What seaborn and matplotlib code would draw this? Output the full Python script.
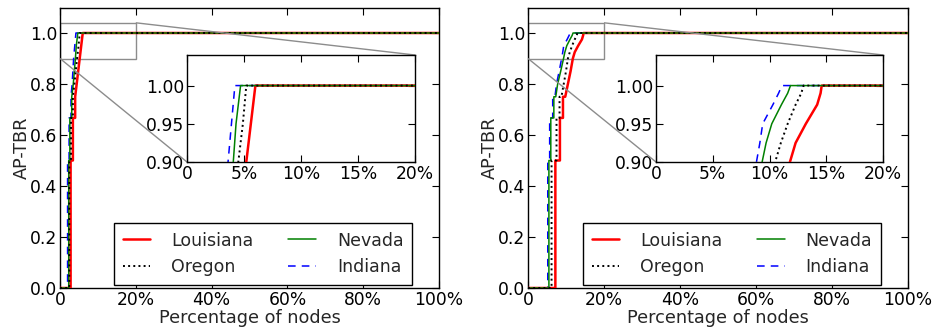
import numpy as np
import pandas as pd
import matplotlib
matplotlib.use("Agg")
import matplotlib.pyplot as plt
import seaborn as sns
from matplotlib.ticker import FuncFormatter
from mpl_toolkits.axes_grid1.inset_locator import mark_inset

# ---------------- data (x in %, y = AP-TBR) ----------------
states = ["Louisiana", "Oregon", "Nevada", "Indiana"]

left_y = [0, 0, 0.5, 0.5, 0.667, 0.667, 0.75, 0.8, 0.9, 0.95, 1.0, 1.0]
left_louisiana = [0, 2.8, 2.8, 3.4, 3.4, 4.0, 4.0, 4.4, 5.2, 5.6, 6.0, 100]
left_oregon    = [0, 2.45, 2.45, 2.9, 2.9, 3.4, 3.4, 3.8, 4.5, 4.9, 5.2, 100]
left_nevada    = [0, 2.3, 2.3, 2.6, 2.6, 3.1, 3.1, 3.5, 4.06, 4.3, 4.7, 100]
left_indiana   = [0, 2.0, 2.0, 2.4, 2.4, 2.9, 2.9, 3.2, 3.6, 3.9, 4.2, 100]

right_y = [0, 0, 0.5, 0.5, 0.667, 0.667, 0.75, 0.75, 0.8, 0.85, 0.9, 0.925, 0.95, 0.975, 0.99, 1.0, 1.0]
right_louisiana = [0, 7.2, 7.2, 8.4, 8.4, 9.2, 9.2, 9.8, 10.5, 11.2, 11.8, 12.3, 13.2, 14.2, 14.5, 14.6, 100]
right_oregon    = [0, 6.2, 6.2, 7.5, 7.5, 8.3, 8.3, 8.8, 9.4, 10.0, 10.5, 11.0, 11.6, 12.3, 12.8, 13.0, 100]
right_nevada    = [0, 5.5, 5.5, 6.0, 6.0, 6.8, 6.8, 7.3, 7.8, 8.6, 9.35, 9.7, 10.2, 11.05, 11.6, 11.85, 100]
right_indiana   = [0, 5.2, 5.2, 5.7, 5.7, 6.5, 6.5, 7.1, 7.5, 8.2, 8.85, 9.15, 9.4, 10.3, 10.8, 11.1, 100]

main_xticks = [0, 20, 40, 60, 80, 100]
inset_xticks = [0, 5, 10, 15, 20]
main_yticks = [0.0, 0.2, 0.4, 0.6, 0.8, 1.0]
inset_yticks = [0.90, 0.95, 1.00]

panels = [
    (left_y, {"Louisiana": left_louisiana, "Oregon": left_oregon,
              "Nevada": left_nevada, "Indiana": left_indiana}),
    (right_y, {"Louisiana": right_louisiana, "Oregon": right_oregon,
               "Nevada": right_nevada, "Indiana": right_indiana}),
]

styles = {
    "Louisiana": dict(color="#ff0000", linestyle="-", linewidth=1.8, zorder=3),
    "Oregon":    dict(color="black", linestyle=":", linewidth=1.4, zorder=5),
    "Nevada":    dict(color="green", linestyle="-", linewidth=1.1, zorder=4),
    "Indiana":   dict(color="blue", linestyle=(0, (5, 4)), linewidth=1.1, zorder=2),
}

# ---------------- style ----------------
sns.set_style("ticks")
plt.rcParams.update({
    "font.family": ["DejaVu Sans"],
    "xtick.direction": "in", "ytick.direction": "in",
    "xtick.top": True, "ytick.right": True,
    "xtick.major.size": 5, "ytick.major.size": 5,
    "xtick.major.pad": 2, "ytick.major.pad": 2,
    "xtick.labelsize": 12.3, "ytick.labelsize": 12.3,
    "axes.edgecolor": "black", "axes.linewidth": 1.0,
    "xtick.color": "black", "ytick.color": "black",
})

fig = plt.figure(figsize=(9.39, 3.31), dpi=100)

main_rects = [
    [60 / 939, 1 - 288 / 331, 379 / 939, 280.5 / 331],
    [528 / 939, 1 - 288 / 331, 380 / 939, 280.5 / 331],
]
inset_rects = [
    [187 / 939, 1 - 162 / 331, 228 / 939, 107 / 331],
    [656 / 939, 1 - 162 / 331, 227 / 939, 107 / 331],
]

def pct(v, pos):
    return "0" if abs(v) < 1e-9 else f"{v:g}%"

for (ys, series), mrect, irect in zip(panels, main_rects, inset_rects):
    ax = fig.add_axes(mrect)
    axin = fig.add_axes(irect)
    for a in (ax, axin):
        for name in ["Indiana", "Louisiana", "Nevada", "Oregon"]:
            df = pd.DataFrame({"x": series[name], "y": ys})
            sns.lineplot(data=df, x="x", y="y", ax=a, sort=False, estimator=None,
                         label=name if a is ax else None, legend=False,
                         **styles[name])
        a.set_xlabel("")
        a.set_ylabel("")
        a.xaxis.set_major_formatter(FuncFormatter(pct))
        for s in a.spines.values():
            s.set_visible(True)
            s.set_color("black")

    ax.set_xlim(0, 100)
    ax.set_ylim(0, 1.1)
    ax.set_xticks(main_xticks)
    ax.set_yticks(main_yticks)
    ax.yaxis.set_major_formatter(FuncFormatter(lambda v, p: f"{v:.1f}"))
    ax.set_xlabel("Percentage of nodes", fontsize=12.7, labelpad=0)
    ax.set_ylabel("AP-TBR", fontsize=12.7, labelpad=-1)

    axin.set_xlim(0, 20)
    axin.set_ylim(0.9, 1.04)
    axin.set_xticks(inset_xticks)
    axin.set_yticks(inset_yticks)
    axin.yaxis.set_major_formatter(FuncFormatter(lambda v, p: f"{v:.2f}"))

    mark_inset(ax, axin, loc1=3, loc2=1, fc="none", ec="0.55", lw=1.0)

    h, l = ax.get_legend_handles_labels()
    order = [l.index(n) for n in states]
    leg = ax.legend([h[i] for i in order], [l[i] for i in order], ncol=2,
                    loc="lower right", bbox_to_anchor=(0.929, 0.011),
                    bbox_transform=ax.transAxes, borderaxespad=0,
                    fontsize=12.5, frameon=True, fancybox=False,
                    handlelength=1.6, handletextpad=1.2, columnspacing=2.0,
                    labelspacing=0.5, borderpad=0.5)
    leg.get_frame().set_edgecolor("black")
    leg.get_frame().set_linewidth(1.0)
    leg.get_frame().set_alpha(1)

fig.savefig("out.png", dpi=100)
